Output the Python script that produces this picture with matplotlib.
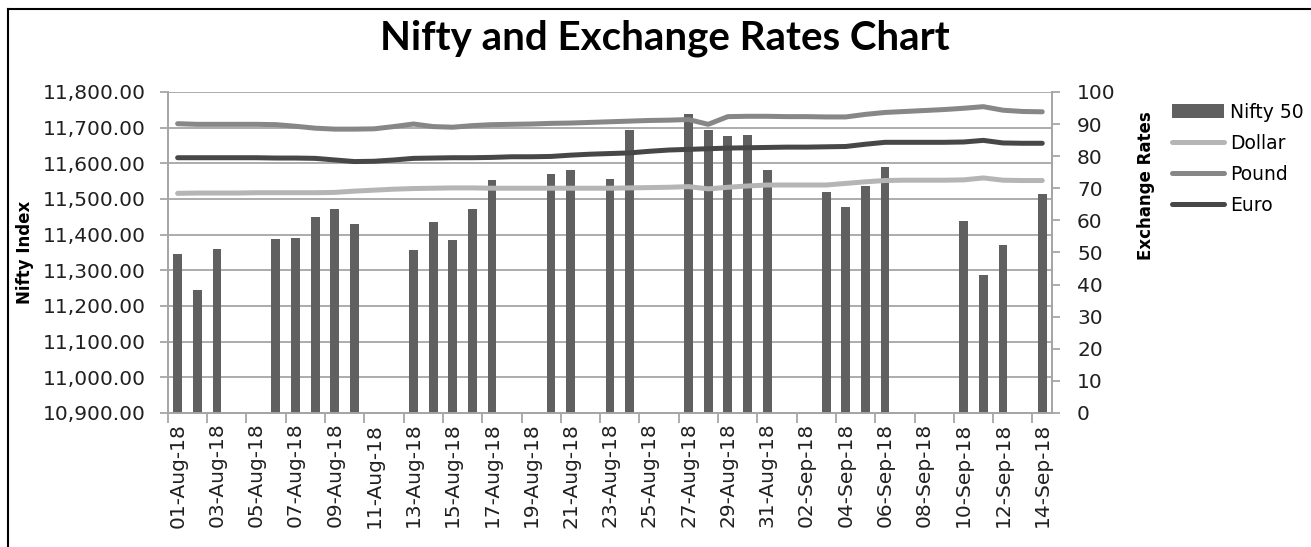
import numpy as np
import pandas as pd
import matplotlib
matplotlib.use("Agg")
import matplotlib.pyplot as plt
from matplotlib.lines import Line2D
from matplotlib.ticker import FuncFormatter, MultipleLocator

# ---------------------------------------------------------------------------
# Data (01-Aug-18 .. 14-Sep-18, one slot per calendar day)
# ---------------------------------------------------------------------------
dates = pd.date_range("2018-08-01", "2018-09-14", freq="D")

trading_days = ["2018-08-01", "2018-08-02", "2018-08-03",
                "2018-08-06", "2018-08-07", "2018-08-08", "2018-08-09", "2018-08-10",
                "2018-08-13", "2018-08-14", "2018-08-15", "2018-08-16", "2018-08-17",
                "2018-08-20", "2018-08-21", "2018-08-23", "2018-08-24",
                "2018-08-27", "2018-08-28", "2018-08-29", "2018-08-30", "2018-08-31",
                "2018-09-03", "2018-09-04", "2018-09-05", "2018-09-06",
                "2018-09-10", "2018-09-11", "2018-09-12", "2018-09-14"]
nifty = [11346.2, 11244.7, 11360.8,
         11387.1, 11389.45, 11450.0, 11470.7, 11429.5,
         11355.75, 11435.1, 11385.05, 11470.75, 11551.75,
         11570.9, 11582.35, 11557.1, 11691.9,
         11738.5, 11691.95, 11676.8, 11680.5, 11582.35,
         11520.3, 11476.95, 11536.9, 11589.1,
         11438.1, 11287.5, 11369.9, 11515.2]

dollar = [68.4, 68.5, 68.5, 68.5, 68.6, 68.6, 68.6, 68.6, 68.7, 69.1,
          69.4, 69.7, 69.9, 70.0, 70.1, 70.1, 70.0, 70.0, 70.0, 70.0,
          70.0, 70.0, 70.0, 70.1, 70.2, 70.3, 70.5, 69.8, 70.3, 70.7,
          71.0, 71.0, 71.0, 71.0, 71.5, 72.0, 72.4, 72.5, 72.5, 72.5,
          72.6, 73.2, 72.5, 72.4, 72.4]
pound = [90.1, 89.9, 89.9, 89.9, 89.9, 89.8, 89.3, 88.7, 88.4, 88.4,
         88.5, 89.2, 90.0, 89.2, 89.0, 89.5, 89.8, 89.9, 90.0, 90.2,
         90.3, 90.5, 90.7, 90.9, 91.1, 91.2, 91.4, 89.9, 92.3, 92.4,
         92.4, 92.3, 92.3, 92.2, 92.2, 93.0, 93.6, 93.9, 94.2, 94.5,
         94.9, 95.4, 94.3, 93.9, 93.8]
euro = [79.5, 79.5, 79.5, 79.5, 79.5, 79.4, 79.4, 79.3, 78.8, 78.3,
        78.4, 78.8, 79.3, 79.4, 79.5, 79.5, 79.6, 79.8, 79.8, 79.9,
        80.3, 80.6, 80.8, 81.0, 81.5, 81.9, 82.1, 82.3, 82.5, 82.6,
        82.7, 82.8, 82.8, 82.9, 83.0, 83.7, 84.3, 84.3, 84.3, 84.3,
        84.4, 84.9, 84.1, 84.0, 84.0]

# ---------------------------------------------------------------------------
x = np.arange(len(dates))
nifty_s = pd.Series(nifty, index=pd.to_datetime(trading_days)).reindex(dates)
bar_x = x[nifty_s.notna().values]
bar_h = nifty_s.dropna().values

fig = plt.figure(figsize=(13.11, 5.47), dpi=100)
ax1 = fig.add_axes([0.128, 0.245, 0.6745, 0.587])
ax2 = ax1.twinx()

grid_c = "#a6a6a6"
ax1.bar(bar_x, bar_h - 10900, bottom=10900, width=0.45, color="#606060",
        zorder=3, label="Nifty 50")
ax1.set_ylim(10900, 11800)
ax1.set_xlim(-0.5, len(dates) - 0.5)
ax1.yaxis.set_major_locator(MultipleLocator(100))
ax1.yaxis.set_major_formatter(FuncFormatter(lambda v, p: f"{v:,.2f}"))
ax1.grid(axis="y", color=grid_c, lw=1.3, zorder=0)
ax1.set_axisbelow(True)

ax2.plot(x, dollar, color="#b5b5b5", lw=3.6, label="Dollar", solid_capstyle="round")
ax2.plot(x, pound, color="#878787", lw=3.6, label="Pound", solid_capstyle="round")
ax2.plot(x, euro, color="#474747", lw=3.6, label="Euro", solid_capstyle="round")
ax2.set_ylim(0, 100)
ax2.yaxis.set_major_locator(MultipleLocator(10))

# x ticks: labels on every other day, tick marks on slot boundaries
ax1.set_xticks(x[::2])
ax1.set_xticklabels([d.strftime("%d-%b-%y") for d in dates[::2]], rotation=90,
                    fontsize=14.5, color="#202020")
ax1.tick_params(axis="x", which="major", length=0, pad=7)
ax1.set_xticks(np.arange(-0.5, len(dates), 2), minor=True)
ax1.tick_params(axis="x", which="minor", length=7, color=grid_c, width=1.3)

ax1.tick_params(axis="y", labelsize=14.5, labelcolor="#202020", length=6,
                color=grid_c, width=1.3, pad=10)
ax2.tick_params(axis="y", labelsize=14.5, labelcolor="#202020", length=6,
                color=grid_c, width=1.3, pad=12)

for ax in (ax1, ax2):
    for s in ax.spines.values():
        s.set_color(grid_c)
        s.set_linewidth(1.3)
    ax.spines["top"].set_visible(False)

ax1.set_ylabel("Nifty Index", fontsize=12, fontweight="bold", labelpad=6)
fig.text(0.874, 0.66, "Exchange Rates", rotation=90, fontsize=12,
         fontweight="bold", ha="center", va="center")

fig.text(0.507, 0.93, "Nifty and Exchange Rates Chart", family="Lato",
         fontsize=29, fontweight="bold", ha="center", va="center")

h1, l1 = ax1.get_legend_handles_labels()
h2, l2 = ax2.get_legend_handles_labels()
fig.legend(h1 + h2, l1 + l2, loc="upper left", bbox_to_anchor=(0.888, 0.826),
           frameon=False, fontsize=13.5, handlelength=2.8, handleheight=0.8,
           labelspacing=0.65, handletextpad=0.3, borderaxespad=0)

# outer frame (left and top edges visible in the reference)
fig.add_artist(Line2D([0.006, 0.006], [0, 0.984], color="black", lw=1.5,
                      transform=fig.transFigure))
fig.add_artist(Line2D([0.006, 1], [0.984, 0.984], color="black", lw=1.5,
                      transform=fig.transFigure))

fig.savefig("out.png", dpi=100)
